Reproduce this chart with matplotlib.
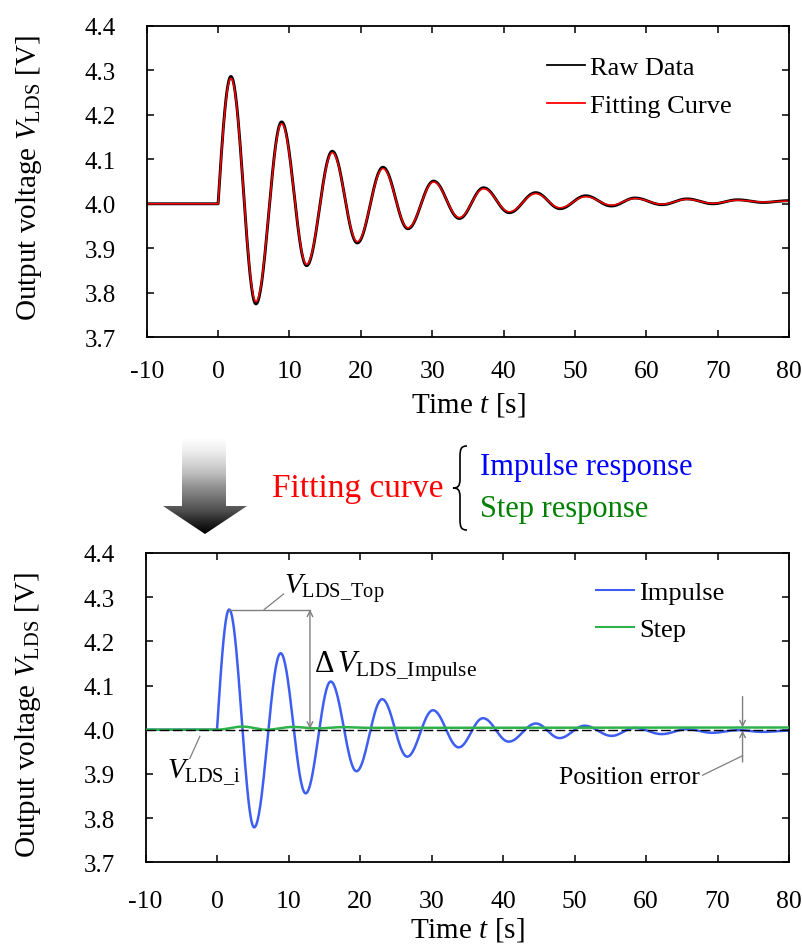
import numpy as np
import matplotlib
matplotlib.use("Agg")
import matplotlib.pyplot as plt
from matplotlib.path import Path
from matplotlib.patches import PathPatch, Polygon
from matplotlib.lines import Line2D

plt.rcParams['font.family'] = ['Liberation Serif', 'DejaVu Serif']
plt.rcParams['mathtext.fontset'] = 'custom'
plt.rcParams['mathtext.rm'] = 'Liberation Serif'
plt.rcParams['mathtext.it'] = 'Liberation Serif:italic'
plt.rcParams['mathtext.bf'] = 'Liberation Serif:bold'
plt.rcParams['axes.unicode_minus'] = False

# extrema (time [s], voltage [V]); the flat part before t=0 sits at 4.0
fit_t = [0.0, 1.8, 5.3, 8.9, 12.4, 16.0, 19.5, 23.1, 26.6, 30.2, 33.8, 37.2, 40.8,
         44.5, 47.9, 51.5, 55.1, 58.4, 62.2, 65.7, 69.3, 72.8, 76.3, 80.0]
fit_v = [4.000, 4.282, 3.780, 4.180, 3.864, 4.115, 3.915, 4.079, 3.946, 4.049, 3.969, 4.034, 3.982,
         4.023, 3.991, 4.016, 3.997, 4.012, 3.999, 4.010, 4.001, 4.008, 4.004, 4.006]
raw_v = [4.000, 4.286, 3.775, 4.184, 3.861, 4.118, 3.912, 4.082, 3.944, 4.051, 3.967, 4.036, 3.980,
         4.025, 3.989, 4.018, 3.995, 4.013, 3.998, 4.011, 4.000, 4.009, 4.003, 4.007]

imp_t = [0.0, 1.7, 5.2, 8.9, 12.4, 15.9, 19.5, 23.1, 26.6, 30.2, 33.8, 37.2, 40.8,
         44.6, 47.9, 51.4, 55.2, 58.4, 62.2, 65.7, 69.3, 72.8, 76.3, 80.0]
imp_v = [4.000, 4.272, 3.779, 4.173, 3.856, 4.109, 3.906, 4.069, 3.939, 4.044, 3.960, 4.026, 3.973,
         4.014, 3.981, 4.009, 3.986, 4.004, 3.990, 4.001, 3.993, 3.999, 3.995, 3.998]

step_t = [0.0, 3.6, 6.9, 10.6, 14.0, 17.6, 21.0, 80.0]
step_v = [4.000, 4.0070, 4.0000, 4.0062, 4.0030, 4.0058, 4.0042, 4.0050]

v_init = 4.0
x_ticks = list(range(-10, 81, 10))
y_ticks = [3.7, 3.8, 3.9, 4.0, 4.1, 4.2, 4.3, 4.4]


def trace(t_ext, v_ext, sine_start):
    # flat baseline before the excitation, then smooth half waves between the read extrema
    t_out = [-10.0, t_ext[0]]
    v_out = [v_ext[0], v_ext[0]]
    s = np.linspace(0, 1, 40)[1:]
    for i in range(len(t_ext) - 1):
        if i == 0 and sine_start:
            w = np.sin(np.pi / 2 * s)
        else:
            w = (1 - np.cos(np.pi * s)) / 2
        t_out.extend(t_ext[i] + (t_ext[i + 1] - t_ext[i]) * s)
        v_out.extend(v_ext[i] + (v_ext[i + 1] - v_ext[i]) * w)
    return np.array(t_out), np.array(v_out)


def style_axes(ax, ylab_y, xpad):
    ax.set_xlim(-10, 80)
    ax.set_ylim(3.7, 4.4)
    ax.set_xticks(x_ticks)
    ax.set_yticks(y_ticks)
    ax.set_yticklabels([f"{v:.1f}" for v in y_ticks])
    ax.tick_params(direction='in', top=True, right=True, length=5, width=1.1)
    ax.tick_params(axis='x', labelsize=18.5, pad=xpad)
    ax.tick_params(axis='y', labelsize=18, pad=22)
    for sp in ax.spines.values():
        sp.set_linewidth(1.3)
    ax.set_ylabel(r"Output voltage $V_{\rm LDS}$ [V]", fontsize=21)
    ax.set_xlabel(r"Time $t$ [s]", fontsize=21)
    ax.yaxis.set_label_coords(-0.183, ylab_y)
    ax.xaxis.set_label_coords(0.5, -0.215)
    ax.xaxis.label.set_va('center')
    ax.yaxis.label.set_va('center')


fig = plt.figure(figsize=(8.03, 9.45), dpi=100)
ax1 = fig.add_axes([0.1827, 0.642, 0.800, 0.3297])
ax2 = fig.add_axes([0.1812, 0.0865, 0.8014, 0.3273])

# top panel
tr, vr = trace(fit_t, raw_v, True)
tf, vf = trace(fit_t, fit_v, True)
ax1.plot(tr, vr, color='black', lw=2.1)
ax1.plot(tf, vf, color='#ff0000', lw=1.1)
style_axes(ax1, 0.515, 16)
h_raw = Line2D([], [], color='black', lw=1.3)
h_fit = Line2D([], [], color='#ff0000', lw=1.3)
ax1.legend([h_raw, h_fit], ['Raw Data', 'Fitting Curve'], loc='upper left',
           bbox_to_anchor=(0.623, 0.905), frameon=False, fontsize=19,
           handlelength=1.45, handletextpad=0.2, labelspacing=0.55, borderpad=0, borderaxespad=0)

# bottom panel
ti, vi = trace(imp_t, imp_v, True)
ts, vs = trace(step_t, step_v, False)
ax2.plot(ts, vs, color='#2db34a', lw=1.8, zorder=3)
ax2.plot(ti, vi, color='#3d5ef0', lw=1.8, zorder=2)
ax2.axhline(v_init, color='black', lw=1.0, linestyle=(0, (7, 2.5)), zorder=4)
style_axes(ax2, 0.48, 20)
h_imp = Line2D([], [], color='#3d5ef0', lw=1.5)
h_step = Line2D([], [], color='#2db34a', lw=1.5)
ax2.legend([h_imp, h_step], ['Impulse', 'Step'], loc='upper left', bbox_to_anchor=(0.70, 0.91),
           frameon=False, fontsize=19, handlelength=1.45, handletextpad=0.2, labelspacing=0.5,
           borderpad=0, borderaxespad=0)

gray = '#7f7f7f'
top_v = imp_v[1]
x_dv = 13.0
ax2.plot([imp_t[1], x_dv], [top_v, top_v], color=gray, lw=1.0)
ax2.annotate('', xy=(x_dv, top_v), xytext=(x_dv, v_init + 0.002),
             arrowprops=dict(arrowstyle='<->', color=gray, lw=1.0, shrinkA=0, shrinkB=0))
ax2.plot([6.6, 9.3], [top_v, 4.307], color=gray, lw=0.9)
ax2.text(9.3, 4.322, r"$V_{\rm LDS\_Top}$", fontsize=21, ha='left', va='center')
ax2.text(13.6, 4.145, r"$\Delta\,V_{\rm LDS\_Impulse}$", fontsize=22, ha='left', va='center')
ax2.plot([-2.4, -3.8], [3.985, 3.935], color=gray, lw=0.9)
ax2.text(-7.0, 3.905, r"$V_{\rm LDS\_i}$", fontsize=21, ha='left', va='center')

x_pe = 73.5
ax2.annotate('', xy=(x_pe, step_v[-1]), xytext=(x_pe, 4.075),
             arrowprops=dict(arrowstyle='->', color=gray, lw=1.0, shrinkA=0, shrinkB=0))
ax2.annotate('', xy=(x_pe, v_init - 0.002), xytext=(x_pe, 3.927),
             arrowprops=dict(arrowstyle='->', color=gray, lw=1.0, shrinkA=0, shrinkB=0))
ax2.plot([67.9, x_pe], [3.897, 3.941], color=gray, lw=0.9)
ax2.text(67.6, 3.893, "Position error", fontsize=18.5, ha='right', va='center')

# middle band: gradient arrow, caption and brace (pixel coordinates of the figure)
ov = fig.add_axes([0, 0, 1, 1], zorder=-1)
ov.set_xlim(0, 803)
ov.set_ylim(945, 0)
ov.axis('off')
arrow_pts = [(182, 440), (226, 440), (226, 507), (247, 507), (205, 535), (163, 507), (182, 507)]
arrow = Polygon(arrow_pts, closed=True, facecolor='none', edgecolor='none')
ov.add_patch(arrow)
grad = np.linspace(0, 1, 256).reshape(-1, 1)
img = ov.imshow(grad, cmap='Greys', extent=(160, 250, 535, 440), aspect='auto',
                vmin=-0.02, vmax=1.0, interpolation='bilinear')
img.set_clip_path(arrow)

ov.text(272, 489, "Fitting curve", color='#ff0000', fontsize=24, ha='left', va='center')
ov.text(480, 467, "Impulse response", color='#0000ff', fontsize=22, ha='left', va='center')
ov.text(480, 509, "Step response", color='#008000', fontsize=22, ha='left', va='center')
brace_verts = [(467, 447), (461, 447), (460, 450), (460, 458), (460, 480),
               (460, 487), (458, 489), (453, 489), (458, 489), (460, 491), (460, 498),
               (460, 520), (460, 528), (461, 531), (467, 531)]
brace_codes = [Path.MOVETO, Path.CURVE4, Path.CURVE4, Path.CURVE4, Path.LINETO,
               Path.CURVE4, Path.CURVE4, Path.CURVE4, Path.CURVE4, Path.CURVE4, Path.CURVE4,
               Path.LINETO, Path.CURVE4, Path.CURVE4, Path.CURVE4]
ov.add_patch(PathPatch(Path(brace_verts, brace_codes), facecolor='none', edgecolor='black', lw=1.2))

fig.savefig('out.png', dpi=100)
